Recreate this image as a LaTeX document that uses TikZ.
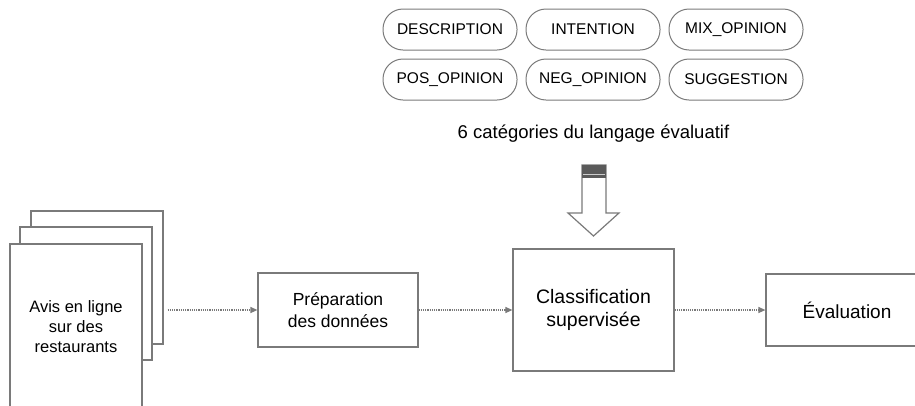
\documentclass[tikz,border=0pt]{standalone}
\usepackage{fontspec}
\setmainfont{Liberation Sans}
\usetikzlibrary{arrows.meta,positioning}

\definecolor{edgegray}{HTML}{7A7A7A}
\definecolor{bandgray}{HTML}{5A5A5A}

\tikzset{
  category/.style={draw=edgegray, line width=1pt, rounded corners=20pt,
    minimum width=134pt, minimum height=41pt, inner sep=0pt,
    font=\fontsize{15.5}{18}\selectfont},
  stage/.style={draw=edgegray, line width=1.2pt, fill=white, align=center, inner sep=0pt},
  sheet/.style={draw=edgegray, line width=1.2pt, fill=white},
  flow/.style={draw=edgegray, line width=1.2pt, dash pattern=on 1.2pt off 1pt,
    -{Triangle[length=7pt,width=6pt]}}
}

\begin{document}
\begin{tikzpicture}[x=1pt,y=-1pt]
  \useasboundingbox (0,0) rectangle (915,405);

  % categories
  \node[category] (description)               at (450,29.5)           {DESCRIPTION};
  \node[category] (intention)   [right=8pt of description] {INTENTION};
  \node[category] (mix opinion) [right=8pt of intention]   {MIX\_OPINION};
  \node[category] (pos opinion) [below=8pt of description] {POS\_OPINION};
  \node[category] (neg opinion) [right=8pt of pos opinion] {NEG\_OPINION};
  \node[category] (suggestion)  [right=8pt of neg opinion] {SUGGESTION};
  \node[font=\fontsize{18.5}{22}\selectfont] (categories) at (593.5,134) {6 catégories du langage évaluatif};

  % stack of reviews
  \node[sheet, minimum width=132pt, minimum height=133pt] (back sheet)   at (97,277.5) {};
  \node[sheet, minimum width=132pt, minimum height=133pt] (middle sheet) at (86,293.5) {};
  \node[sheet, minimum width=132pt, minimum height=176pt] (reviews) at (76,332) {};
  \node[align=center, font=\fontsize{16.5}{20}\selectfont] (reviews text) at (76,327)
    {Avis en ligne\\sur des\\restaurants};

  % pipeline
  \node[stage, minimum width=160pt, minimum height=74pt,
    font=\fontsize{17.5}{22}\selectfont] (preparation) at (338,310) {Préparation\\des données};
  \node[stage, minimum width=161pt, minimum height=122pt,
    font=\fontsize{19.5}{23}\selectfont] (classification) at (593.5,310) {Classification\\supervisée};
  \node[stage, minimum width=162pt, minimum height=72pt,
    font=\fontsize{19}{23}\selectfont] (evaluation) at (847,310) {Évaluation};

  \draw[flow] ([xshift=4pt]preparation.west -| back sheet.east) -- (preparation.west);
  \draw[flow] (preparation.east) -- (classification.west);
  \draw[flow] (classification.east) -- (evaluation.west);

  % block arrow
  \draw[edgegray, line width=1.2pt, fill=white, line join=miter]
    (582,165) -- (606,165) -- (606,213) -- (619,213) -- (593.5,236)
    -- (568,213) -- (582,213) -- cycle;
  \fill[bandgray] (582,165) rectangle (606,177.5);
  \draw[gray!40, line width=1pt] (583,174) -- (605,174);
\end{tikzpicture}
\end{document}
